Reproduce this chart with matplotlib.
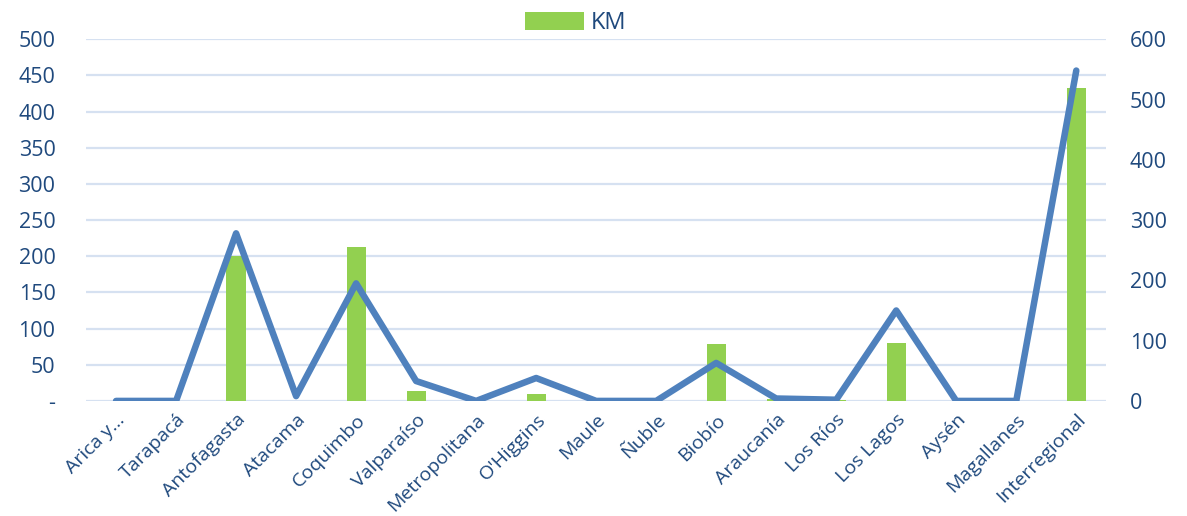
import matplotlib

matplotlib.use("Agg")

import matplotlib.pyplot as plt
import numpy as np
from matplotlib.ticker import FuncFormatter

REGIONS = [
    "Arica y...", "Tarapacá", "Antofagasta", "Atacama", "Coquimbo", "Valparaíso",
    "Metropolitana", "O'Higgins", "Maule", "Ñuble", "Biobío", "Araucanía",
    "Los Ríos", "Los Lagos", "Aysén", "Magallanes", "Interregional",
]
KM = [0, 0, 200, 0, 213, 14, 0, 10, 0, 0, 79, 3, 1, 80, 0, 0, 432]
LINE_VALUES = [0, 0, 278, 8, 195, 33, 0, 38, 0, 0, 63, 4, 2, 150, 0, 0, 548]

LEFT_TICKS = list(range(0, 501, 50))
RIGHT_TICKS = list(range(0, 601, 100))

TEXT_COLOR = "#1F497D"
BAR_COLOR = "#92D050"
LINE_COLOR = "#4F81BD"
GRID_COLOR = "#D6E1F1"

plt.rcParams["font.family"] = ["Open Sans", "DejaVu Sans"]

fig = plt.figure(figsize=(11.87, 5.16), dpi=100)
ax = fig.add_axes([0.0725, 0.223, 0.8595, 0.701])
x = np.arange(len(REGIONS))

ax.bar(x, KM, width=0.32, color=BAR_COLOR, zorder=2, label="KM")
ax.set_ylim(0, 500)
ax.set_xlim(-0.5, len(REGIONS) - 0.5)
ax.set_yticks(LEFT_TICKS)
ax.yaxis.set_major_formatter(FuncFormatter(lambda v, _: "-" if v == 0 else f"{v:g}"))
ax.grid(axis="y", color=GRID_COLOR, linewidth=1.6, zorder=0)
ax.set_axisbelow(True)

ax.set_xticks(x)
ax.set_xticklabels(REGIONS, rotation=45, ha="right", rotation_mode="anchor",
                   fontsize=14, color=TEXT_COLOR)
ax.tick_params(axis="x", length=0, pad=7)
ax.tick_params(axis="y", length=0, pad=22, labelsize=15.5, labelcolor=TEXT_COLOR)

ax2 = ax.twinx()
ax2.plot(x, LINE_VALUES, color=LINE_COLOR, linewidth=4.7, solid_capstyle="round",
         solid_joinstyle="round", zorder=3)
ax2.set_ylim(0, 600)
ax2.set_yticks(RIGHT_TICKS)
ax2.tick_params(axis="y", length=0, pad=17, labelsize=15.5, labelcolor=TEXT_COLOR)

for a in (ax, ax2):
    for spine in a.spines.values():
        spine.set_visible(False)

fig.legend(loc="upper center", bbox_to_anchor=(0.485, 1.02), frameon=False,
           fontsize=17, labelcolor=TEXT_COLOR, handlelength=2.5, handleheight=0.8,
           handletextpad=0.3)

fig.savefig("out.png", dpi=100)
